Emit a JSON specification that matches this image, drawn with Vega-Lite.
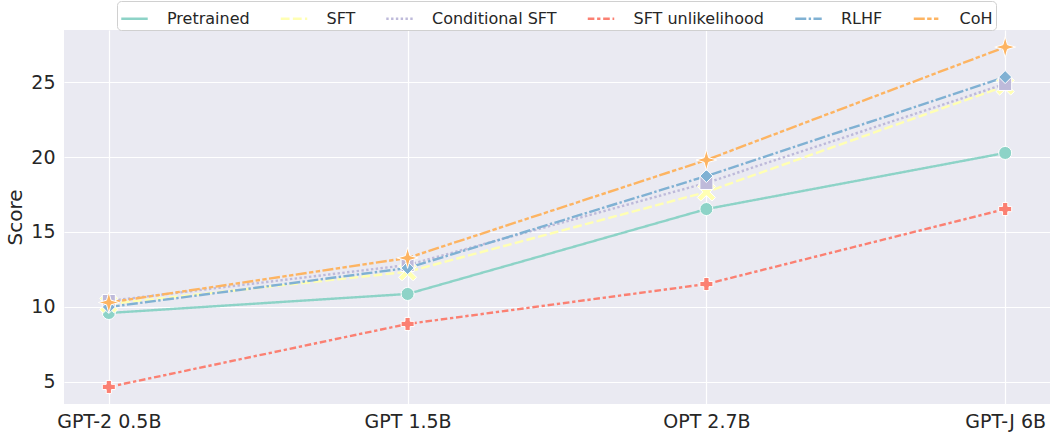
{
  "$schema": "https://vega.github.io/schema/vega-lite/v6.json",
  "width": 986,
  "height": 374,
  "autosize": {"type": "none"},
  "padding": {"left": 64, "top": 30, "right": 0, "bottom": 29},
  "background": "white",
  "config": {
    "font": "DejaVu Sans",
    "view": {"fill": "#EAEAF2", "stroke": null},
    "axis": {
      "domain": false,
      "ticks": false,
      "grid": true,
      "gridColor": "white",
      "gridWidth": 1.2,
      "labelFont": "DejaVu Sans",
      "labelFontSize": 19,
      "labelColor": "#262626",
      "titleFont": "DejaVu Sans",
      "titleFontSize": 20,
      "titleFontWeight": "normal",
      "titleColor": "#262626"
    },
    "legend": {
      "orient": "none",
      "legendX": 53,
      "legendY": -29,
      "direction": "horizontal",
      "columns": 6,
      "fillColor": "white",
      "strokeColor": "#d0d0d0",
      "cornerRadius": 4,
      "padding": 3,
      "symbolType": "stroke",
      "symbolSize": 700,
      "symbolStrokeWidth": 2.4,
      "labelFont": "DejaVu Sans",
      "labelFontSize": 16,
      "labelColor": "#262626",
      "labelOffset": 18,
      "columnPadding": 25.5
    }
  },
  "resolve": {"legend": {"shape": "independent"}},
  "data": {
    "values": [
      {"model": "GPT-2 0.5B", "method": "Pretrained", "score": 9.6},
      {"model": "GPT 1.5B", "method": "Pretrained", "score": 10.87},
      {"model": "OPT 2.7B", "method": "Pretrained", "score": 16.53},
      {"model": "GPT-J 6B", "method": "Pretrained", "score": 20.27},
      {"model": "GPT-2 0.5B", "method": "SFT", "score": 10.2},
      {"model": "GPT 1.5B", "method": "SFT", "score": 12.35},
      {"model": "OPT 2.7B", "method": "SFT", "score": 17.67},
      {"model": "GPT-J 6B", "method": "SFT", "score": 24.73},
      {"model": "GPT-2 0.5B", "method": "Conditional SFT", "score": 10.4},
      {"model": "GPT 1.5B", "method": "Conditional SFT", "score": 12.8},
      {"model": "OPT 2.7B", "method": "Conditional SFT", "score": 18.27},
      {"model": "GPT-J 6B", "method": "Conditional SFT", "score": 24.87},
      {"model": "GPT-2 0.5B", "method": "SFT unlikelihood", "score": 4.67},
      {"model": "GPT 1.5B", "method": "SFT unlikelihood", "score": 8.87},
      {"model": "OPT 2.7B", "method": "SFT unlikelihood", "score": 11.53},
      {"model": "GPT-J 6B", "method": "SFT unlikelihood", "score": 16.53},
      {"model": "GPT-2 0.5B", "method": "RLHF", "score": 10.0},
      {"model": "GPT 1.5B", "method": "RLHF", "score": 12.6},
      {"model": "OPT 2.7B", "method": "RLHF", "score": 18.73},
      {"model": "GPT-J 6B", "method": "RLHF", "score": 25.33},
      {"model": "GPT-2 0.5B", "method": "CoH", "score": 10.3},
      {"model": "GPT 1.5B", "method": "CoH", "score": 13.27},
      {"model": "OPT 2.7B", "method": "CoH", "score": 19.8},
      {"model": "GPT-J 6B", "method": "CoH", "score": 27.33}
    ]
  },
  "encoding": {
    "x": {
      "field": "model",
      "type": "ordinal",
      "sort": ["GPT-2 0.5B", "GPT 1.5B", "OPT 2.7B", "GPT-J 6B"],
      "scale": {"type": "point", "padding": 0.15},
      "axis": {"title": null, "labelAngle": 0, "labelPadding": 8}
    },
    "y": {
      "field": "score",
      "type": "quantitative",
      "scale": {"domain": [3.533, 28.467], "nice": false, "zero": false},
      "axis": {"title": "Score", "values": [5, 10, 15, 20, 25], "labelPadding": 9, "titlePadding": 5}
    },
    "color": {
      "field": "method",
      "type": "nominal",
      "sort": ["Pretrained", "SFT", "Conditional SFT", "SFT unlikelihood", "RLHF", "CoH"],
      "scale": {
        "domain": ["Pretrained", "SFT", "Conditional SFT", "SFT unlikelihood", "RLHF", "CoH"],
        "range": ["#8dd3c7", "#ffffb3", "#bebada", "#fb8072", "#80b1d3", "#fdb462"]
      },
      "legend": {"title": null}
    }
  },
  "layer": [
    {
      "mark": {"type": "line", "strokeWidth": 2.4},
      "encoding": {
        "strokeDash": {
          "field": "method",
          "type": "nominal",
          "sort": ["Pretrained", "SFT", "Conditional SFT", "SFT unlikelihood", "RLHF", "CoH"],
          "scale": {
            "domain": ["Pretrained", "SFT", "Conditional SFT", "SFT unlikelihood", "RLHF", "CoH"],
            "range": [[1, 0], [8.8, 3.3], [2.4, 2.4], [6.6, 2.75, 3.3, 2.75], [11, 2.4, 2.4, 2.4], [11, 2.4, 4.4, 2.4, 4.4, 2.4]]
          },
          "legend": {"title": null}
        }
      }
    },
    {
      "mark": {"type": "point", "filled": true, "opacity": 1, "size": 170, "stroke": "white", "strokeWidth": 1},
      "encoding": {
        "shape": {
          "field": "method",
          "type": "nominal",
          "scale": {
            "domain": ["Pretrained", "SFT", "Conditional SFT", "SFT unlikelihood", "RLHF", "CoH"],
            "range": [
              "circle",
              "M-1.4,-0.85L-0.85,-1.4L0,-0.55L0.85,-1.4L1.4,-0.85L0.55,0L1.4,0.85L0.85,1.4L0,0.55L-0.85,1.4L-1.4,0.85L-0.55,0Z",
              "square",
              "cross",
              "diamond",
              "M0,-1.6L0.35,-0.35L1.6,0L0.35,0.35L0,1.6L-0.35,0.35L-1.6,0L-0.35,-0.35Z"
            ]
          },
          "legend": null
        }
      }
    }
  ]
}
